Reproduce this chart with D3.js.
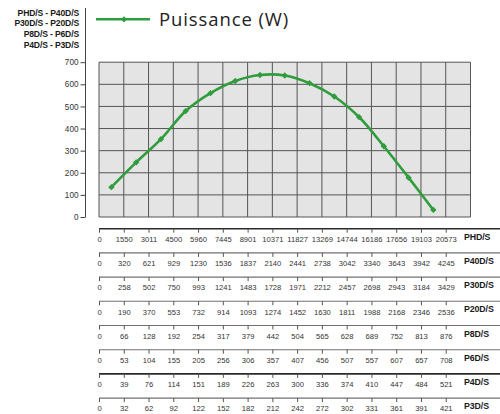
<!DOCTYPE html>
<html>
<head>
<meta charset="utf-8">
<script src="https://cdn.jsdelivr.net/npm/d3@7"></script>
<style>
  html, body { margin: 0; padding: 0; background: #fff; }
  svg { display: block; font-family: "Liberation Sans", Arial, sans-serif; }
</style>
</head>
<body>
<svg id="chart" width="500" height="414"></svg>
<script>
// Puissance (W) curve with stacked flow scales per model.
const power = [135, 247, 352, 479, 560, 615, 642, 640, 605, 545, 452, 320, 178, 32];
const yTicks = [0, 100, 200, 300, 400, 500, 600, 700];
const headerLabels = ["PHD/S - P40D/S", "P30D/S - P20D/S", "P8D/S - P6D/S", "P4D/S - P3D/S"];
const models = ["PHD/S", "P40D/S", "P30D/S", "P20D/S", "P8D/S", "P6D/S", "P4D/S", "P3D/S"];
const flowPHD  = [0, 1550, 3011, 4500, 5960, 7445, 8901, 10371, 11827, 13269, 14744, 16186, 17656, 19103, 20573];
const flowP40D = [0, 320, 621, 929, 1230, 1536, 1837, 2140, 2441, 2738, 3042, 3340, 3643, 3942, 4245];
const flowP30D = [0, 258, 502, 750, 993, 1241, 1483, 1728, 1971, 2212, 2457, 2698, 2943, 3184, 3429];
const flowP20D = [0, 190, 370, 553, 732, 914, 1093, 1274, 1452, 1630, 1811, 1988, 2168, 2346, 2536];
const flowP8D  = [0, 66, 128, 192, 254, 317, 379, 442, 504, 565, 628, 689, 752, 813, 876];
const flowP6D  = [0, 53, 104, 155, 205, 256, 306, 357, 407, 456, 507, 557, 607, 657, 708];
const flowP4D  = [0, 39, 76, 114, 151, 189, 226, 263, 300, 336, 374, 410, 447, 484, 521];
const flowP3D  = [0, 32, 62, 92, 122, 152, 182, 212, 242, 272, 302, 331, 361, 391, 421];
const flows = [flowPHD, flowP40D, flowP30D, flowP20D, flowP8D, flowP6D, flowP4D, flowP3D];

const GREEN = "#2f9d3c";
const svg = d3.select("#chart");

const x = d3.scaleLinear().domain([0, 15]).range([99, 470.5]);
const y = d3.scaleLinear().domain([0, 700]).range([217, 62.2]);
const marker = d3.symbol(d3.symbolSquare, 20);

// plot background + grid
svg.append("rect")
  .attr("x", x(0)).attr("y", y(700))
  .attr("width", x(15) - x(0)).attr("height", y(0) - y(700))
  .attr("fill", "#e3e4e3");

const grid = svg.append("g").attr("stroke", "#555").attr("stroke-width", 1);
grid.selectAll("line.v").data(d3.range(0, 16)).join("line")
  .attr("x1", d => x(d)).attr("x2", d => x(d))
  .attr("y1", y(700)).attr("y2", y(0));
grid.selectAll("line.h").data(yTicks).join("line")
  .attr("x1", x(0)).attr("x2", x(15))
  .attr("y1", d => y(d)).attr("y2", d => y(d));

// y axis
svg.append("line")
  .attr("x1", 85.5).attr("x2", 85.5).attr("y1", 8).attr("y2", y(0))
  .attr("stroke", "#444").attr("stroke-width", 1);
const yAxis = svg.append("g").attr("transform", "translate(85.5,0)")
  .call(d3.axisLeft(y).tickValues(yTicks).tickSize(5).tickPadding(2));
yAxis.select(".domain").remove();
yAxis.selectAll("line").attr("stroke", "#444");
yAxis.selectAll("text").attr("font-size", 8.2).attr("fill", "#333")
  .attr("font-family", "Liberation Sans, Arial, sans-serif");

// header model list
svg.append("g").selectAll("text").data(headerLabels).join("text")
  .attr("x", 79).attr("y", (d, i) => 15.5 + i * 10.7)
  .attr("text-anchor", "end")
  .attr("font-size", 8.6).attr("font-weight", "bold")
  .attr("letter-spacing", -0.15).attr("fill", "#1a1a1a")
  .text(d => d);

// legend
svg.append("line").attr("x1", 96).attr("x2", 150).attr("y1", 19.3).attr("y2", 19.3)
  .attr("stroke", GREEN).attr("stroke-width", 2.6);
svg.append("path").attr("d", marker())
  .attr("transform", "translate(124,19.3) rotate(45)").attr("fill", GREEN);
svg.append("text").attr("x", 159).attr("y", 25.5)
  .attr("font-size", 18.5).attr("fill", "#222").attr("letter-spacing", 0.9)
  .attr("font-family", "Open Sans, Liberation Sans, sans-serif")
  .text("Puissance (W)");

// curve
const line = d3.line()
  .x((d, i) => x(i + 0.5)).y(d => y(d))
  .curve(d3.curveCatmullRom.alpha(0.5));
svg.append("path").datum(power)
  .attr("d", line).attr("fill", "none")
  .attr("stroke", GREEN).attr("stroke-width", 2.6);
svg.append("g").selectAll("path").data(power).join("path")
  .attr("d", marker())
  .attr("transform", (d, i) => `translate(${x(i + 0.5)},${y(d)}) rotate(45)`)
  .attr("fill", GREEN);

// flow scales per model
const rowY0 = 228.7, rowStep = 24.2;
flows.forEach((vals, r) => {
  const ly = rowY0 + r * rowStep;
  const g = svg.append("g").attr("transform", `translate(0,${ly})`);
  const heavy = r === 0 || r === 6;
  g.append("line").attr("x1", x(0)).attr("x2", 500).attr("y1", 0).attr("y2", 0)
    .attr("stroke", heavy ? "#2a2a2a" : "#707070")
    .attr("stroke-width", heavy ? 1.6 : 1.1);
  const ax = d3.axisBottom(x).tickValues(d3.range(0, 15))
    .tickFormat(i => vals[i]).tickSize(4).tickPadding(4).tickSizeOuter(0);
  const a = g.append("g").call(ax);
  a.select(".domain").remove();
  a.selectAll("line").attr("stroke", "#555");
  a.selectAll("text").attr("font-size", 7.6).attr("fill", "#333")
    .attr("font-family", "Liberation Sans, Arial, sans-serif");
  g.append("text").attr("x", 464).attr("y", 11)
    .attr("font-size", 8.8).attr("font-weight", "bold").attr("fill", "#1a1a1a")
    .attr("letter-spacing", -0.1)
    .text(models[r]);
});
</script>
</body>
</html>
